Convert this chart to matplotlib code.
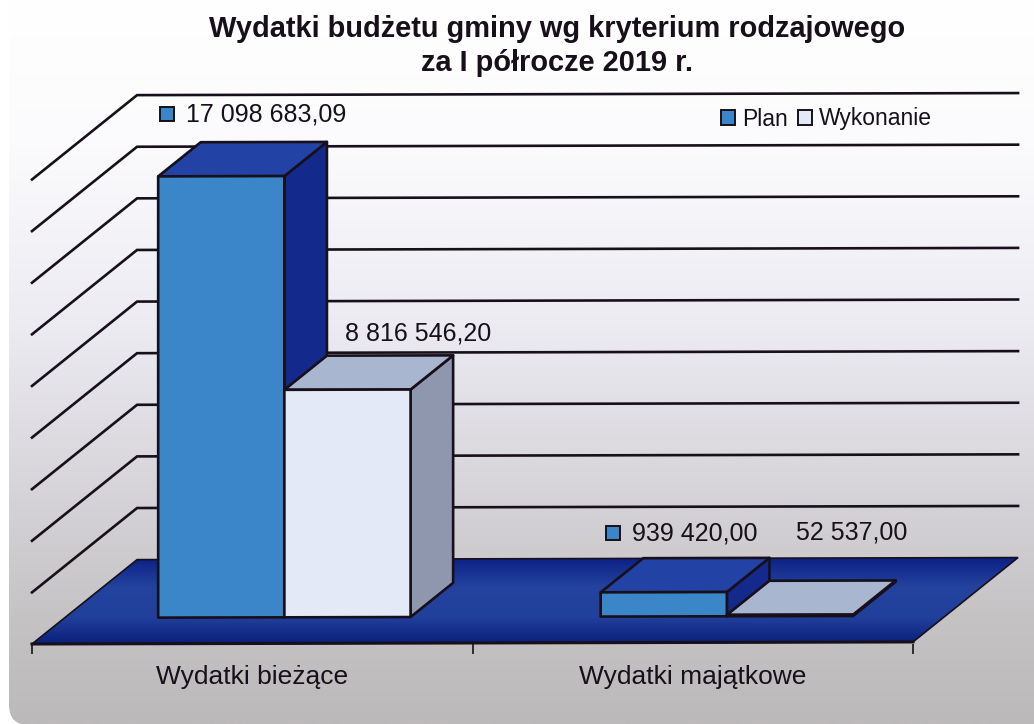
import numpy as np
import matplotlib
matplotlib.use('Agg')
import matplotlib.pyplot as plt
from matplotlib.colors import LinearSegmentedColormap
from matplotlib.patches import FancyBboxPatch, Patch, Polygon
from matplotlib.transforms import ScaledTranslation

plt.rcParams['font.family'] = ['Liberation Sans', 'DejaVu Sans']

# data
categories = ['Wydatki bieżące', 'Wydatki majątkowe']
series_names = ['Plan', 'Wykonanie']
plan = [17098683.09, 939420.00]
wykonanie = [8816546.20, 52537.00]
plan_labels = ['17 098 683,09', '939 420,00']
wykonanie_labels = ['8 816 546,20', '52 537,00']
grid_values = [2e6, 4e6, 6e6, 8e6, 10e6, 12e6, 14e6, 16e6, 18e6]

W, H = 1034, 724
INK = '#17101a'

# fake 3d: depth 0 is the front of the floor, depth 1 the back wall
DEPTH_X = 0.2385
DEPTH_Y = 3.26e6
SKEW = 40000  # the scan is tilted slightly

fig = plt.figure(figsize=(W / 100, H / 100), dpi=100, facecolor='white')


def proj(x, v, d):
    return x + d * DEPTH_X, v + d * DEPTH_Y + SKEW * (x + d * DEPTH_X)


# page background
bg = fig.add_axes([0, 0, 1, 1], zorder=0)
bg.set_xlim(0, W)
bg.set_ylim(H, 0)
bg.axis('off')
page_cmap = LinearSegmentedColormap.from_list('page', [
    (0.0, '#ffffff'), (0.2, '#fbfbfd'), (0.45, '#ecebf2'),
    (0.7, '#d4d2d6'), (0.85, '#c6c3c5'), (1.0, '#bcb9ba')])
img = bg.imshow(np.linspace(0, 1, 256).reshape(-1, 1), cmap=page_cmap,
                extent=[0, W, H, 0], aspect='auto')
clip = FancyBboxPatch((9, -30), W + 40, H + 31, boxstyle='round,pad=0,rounding_size=20',
                      transform=bg.transData, fc='none', ec='none')
bg.add_patch(clip)
img.set_clip_path(clip)

# main axes = front plane of the chart
ax = fig.add_axes([32 / W, 1 - 644 / H, 881 / W, 464.5 / H], zorder=1)
ax.set_xlim(0, 2)
ax.set_ylim(0, 18e6)
ax.patch.set_alpha(0)
for s in ax.spines.values():
    s.set_visible(False)
ax.yaxis.set_visible(False)
ax.set_xticks([0, 1, 2])
ax.set_xticklabels([])
ax.set_xticks([0.5, 1.5], categories, minor=True)
ax.tick_params(axis='x', which='major', length=7.5, width=1.2, color=INK)
ax.tick_params(axis='x', which='minor', length=0, pad=15, labelsize=19, labelcolor=INK)

# gridlines on the wall and left side
for v in grid_values:
    pts = [proj(0, v, 0), proj(0, v, 1), proj(2, v, 1)]
    ax.plot([p[0] for p in pts], [p[1] for p in pts], color=INK, lw=1.9,
            clip_on=False, zorder=1, solid_joinstyle='miter')

# floor
floor_pts = [proj(0, 0, 0), proj(2, 0, 0), proj(2, 0, 1), proj(0, 0, 1)]
floor_cmap = LinearSegmentedColormap.from_list('floor', ['#0b2184', '#24439f', '#21409c', '#081c78'])
floor_img = ax.imshow(np.linspace(0, 1, 128).reshape(-1, 1), cmap=floor_cmap, aspect='auto',
                      extent=[0, 2.3, -1e5, DEPTH_Y + 1e5], origin='upper', zorder=2)
floor_poly = Polygon(floor_pts, closed=True, fc='none', ec=INK, lw=1.2, zorder=2.1,
                     clip_on=False, joinstyle='miter')
ax.add_patch(floor_poly)
floor_img.set_clip_box(fig.bbox)
floor_img.set_clip_path(floor_poly)
ax.plot([floor_pts[0][0], floor_pts[1][0]], [floor_pts[0][1], floor_pts[1][1]],
        color=INK, lw=2.2, zorder=2.2, clip_on=False)
ax.set_xlim(0, 2)
ax.set_ylim(0, 18e6)

# bars
BAR_W = 0.2865
BAR_D0, BAR_D1 = 0.31, 0.715
X0 = 0.2125


def draw_bar(x, v, front, top, side, z):
    f = [proj(x, 0, BAR_D0), proj(x + BAR_W, 0, BAR_D0), proj(x + BAR_W, v, BAR_D0), proj(x, v, BAR_D0)]
    s = [proj(x + BAR_W, 0, BAR_D0), proj(x + BAR_W, 0, BAR_D1), proj(x + BAR_W, v, BAR_D1), proj(x + BAR_W, v, BAR_D0)]
    t = [proj(x, v, BAR_D0), proj(x + BAR_W, v, BAR_D0), proj(x + BAR_W, v, BAR_D1), proj(x, v, BAR_D1)]
    for pts, c in ((s, side), (t, top), (f, front)):
        ax.add_patch(Polygon(pts, closed=True, fc=c, ec=INK, lw=1.9, zorder=z,
                             clip_on=False, joinstyle='round'))
    return f[3]


BLUE = ('#3b86c8', '#2243a5', '#13298c')
WHITE = ('#e3e9f6', '#a9b6d0', '#8e97ae')
plan_off = [(28, 62), (31, 59)]
wyk_off = [(61, 56), (69, 82)]
for i in range(2):
    x = X0 + i * 1.0045
    c1 = draw_bar(x, plan[i], *BLUE, 3 + i * 2)
    c2 = draw_bar(x + BAR_W, wykonanie[i], *WHITE, 4 + i * 2)
    ax.annotate(plan_labels[i], xy=c1, xytext=(plan_off[i][0] * .72, plan_off[i][1] * .72),
                textcoords='offset points', fontsize=18, color=INK, va='center', zorder=10,
                annotation_clip=False)
    ax.annotate(wykonanie_labels[i], xy=c2, xytext=(wyk_off[i][0] * .72, wyk_off[i][1] * .72),
                textcoords='offset points', fontsize=18, color=INK, va='center', zorder=10,
                annotation_clip=False)
    # little key square in front of the plan label
    tr = ax.transData + ScaledTranslation((plan_off[i][0] - 19) / 100, plan_off[i][1] / 100, fig.dpi_scale_trans)
    ax.plot([c1[0]], [c1[1]], marker='s', ms=9.5, mfc=BLUE[0], mec=INK, mew=1.4,
            transform=tr, clip_on=False, zorder=10)

# legend
handles = [Patch(fc=BLUE[0], ec=INK, lw=1.4, label=series_names[0]),
           Patch(fc=WHITE[0], ec=INK, lw=1.4, label=series_names[1])]
fig.legend(handles=handles, ncol=2, frameon=False, fontsize=16.5, labelcolor=INK,
           loc='center left', bbox_to_anchor=(721 / W, 1 - 119 / H), borderaxespad=0, borderpad=0,
           handlelength=0.62, handleheight=0.62, handletextpad=0.3, columnspacing=0.45)

# title
fig.text(557 / W, 1 - 46 / H, 'Wydatki budżetu gminy wg kryterium rodzajowego\nza I półrocze 2019 r.',
         ha='center', va='center', fontsize=20.9, fontweight='bold', color=INK, linespacing=1.26)

fig.savefig('out.png', dpi=100)
